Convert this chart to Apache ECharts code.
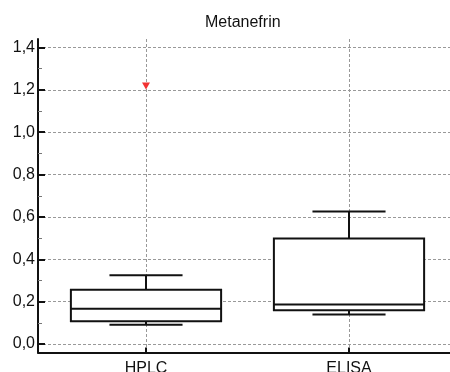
<!DOCTYPE html>
<html>
<head>
<meta charset="utf-8">
<script src="https://cdn.jsdelivr.net/npm/echarts@6/dist/echarts.min.js"></script>
<style>
  html, body { margin: 0; padding: 0; background: #fff; }
  #main { width: 450px; height: 372px; }
</style>
</head>
<body>
<div id="main"></div>
<script>
// values
var categories = ['HPLC', 'ELISA'];
var lowWhisker = [0.091, 0.139];
var q1 = [0.108, 0.160];
var median = [0.166, 0.187];
var q3 = [0.256, 0.498];
var highWhisker = [0.325, 0.626];
var outliers = [[0, 1.218]];

var yTicks = [0, 0.2, 0.4, 0.6, 0.8, 1.0, 1.2, 1.4];
var yMinorTicks = [0.1, 0.3, 0.5, 0.7, 0.9, 1.1, 1.3];
var xTicks = [0, 1];

var font = 'Liberation Sans, Arial, sans-serif';

var boxData = categories.map(function (c, i) {
  return [i, lowWhisker[i], q1[i], median[i], q3[i], highWhisker[i]];
});

function renderBox(params, api) {
  var x = api.value(0);
  var boxHalf = 0.37, capHalf = 0.18;
  var lo = api.coord([x, api.value(1)]);
  var b1 = api.coord([x, api.value(2)]);
  var md = api.coord([x, api.value(3)]);
  var b3 = api.coord([x, api.value(4)]);
  var hi = api.coord([x, api.value(5)]);
  var left = api.coord([x - boxHalf, 0])[0];
  var right = api.coord([x + boxHalf, 0])[0];
  var capL = api.coord([x - capHalf, 0])[0];
  var capR = api.coord([x + capHalf, 0])[0];
  var st = { stroke: '#111', lineWidth: 2, fill: null };
  return {
    type: 'group',
    children: [
      { type: 'line', shape: { x1: lo[0], y1: lo[1], x2: b1[0], y2: b1[1] }, style: st },
      { type: 'line', shape: { x1: b3[0], y1: b3[1], x2: hi[0], y2: hi[1] }, style: st },
      { type: 'line', shape: { x1: capL, y1: lo[1], x2: capR, y2: lo[1] }, style: st },
      { type: 'line', shape: { x1: capL, y1: hi[1], x2: capR, y2: hi[1] }, style: st },
      { type: 'rect', shape: { x: left, y: b3[1], width: right - left, height: b1[1] - b3[1] },
        style: { fill: '#fff', stroke: '#111', lineWidth: 2 } },
      { type: 'line', shape: { x1: left, y1: md[1], x2: right, y2: md[1] }, style: st }
    ]
  };
}

var chart = echarts.init(document.getElementById('main'), null, { renderer: 'canvas' });

var gridLine = { show: true, lineStyle: { color: '#999', width: 1, type: [3, 2] } };

var option = {
  animation: false,
  backgroundColor: '#fff',
  title: {
    text: 'Metanefrin',
    left: 205,
    top: 15,
    padding: 0,
    textStyle: { fontFamily: font, fontSize: 16, fontWeight: 'normal', color: '#111' }
  },
  grid: { left: 38, right: 0, top: 39, bottom: 19.5, outerBoundsMode: 'none' },
  xAxis: {
    type: 'value',
    min: -0.532,
    max: 1.4975,
    axisLine: { show: true, onZero: false, lineStyle: { color: '#111', width: 2 } },
    axisTick: { show: true, inside: true, length: 5, customValues: xTicks, lineStyle: { color: '#111', width: 2 } },
    axisLabel: {
      customValues: xTicks,
      margin: 8,
      fontFamily: font, fontSize: 16, color: '#111',
      formatter: function (v) { return categories[Math.round(v)]; }
    },
    splitLine: gridLine
  },
  yAxis: [{
    type: 'value',
    min: -0.04,
    max: 1.44,
    axisLine: { show: true, onZero: false, lineStyle: { color: '#111', width: 2 } },
    axisTick: { show: true, inside: true, length: 7, customValues: yTicks, lineStyle: { color: '#111', width: 2 } },
    axisLabel: {
      customValues: yTicks,
      margin: 3,
      fontFamily: font, fontSize: 16, color: '#111',
      formatter: function (v) { return v.toFixed(1).replace('.', ','); }
    },
    splitLine: gridLine
  }, {
    type: 'value',
    position: 'left',
    offset: 0,
    min: -0.04,
    max: 1.44,
    axisLine: { show: false, onZero: false },
    axisTick: { show: true, inside: true, length: 4, customValues: yMinorTicks, lineStyle: { color: '#777', width: 1 } },
    axisLabel: { show: false, customValues: yMinorTicks },
    splitLine: { show: false }
  }],
  series: [{
    type: 'custom',
    renderItem: renderBox,
    encode: { x: 0, y: [1, 2, 3, 4, 5] },
    data: boxData,
    z: 3
  }, {
    type: 'scatter',
    data: outliers,
    symbol: 'triangle',
    symbolRotate: 180,
    symbolSize: [8, 7],
    itemStyle: { color: '#f23232', opacity: 1 },
    z: 4
  }]
};

chart.setOption(option);
</script>
</body>
</html>
